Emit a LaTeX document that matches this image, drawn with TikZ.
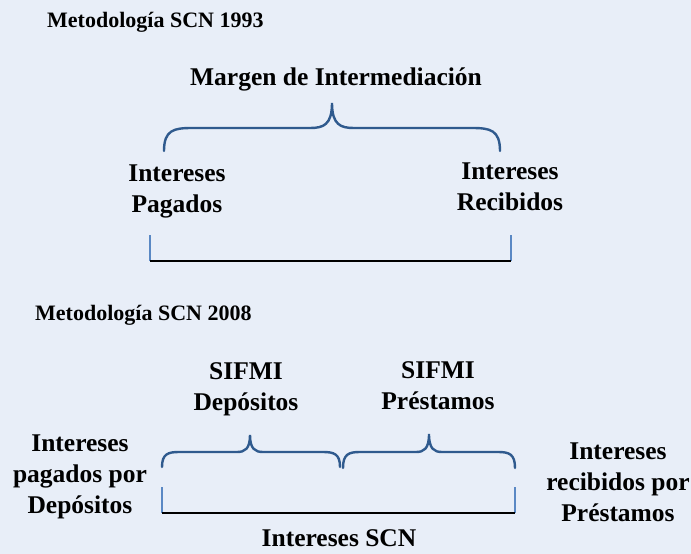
\documentclass[tikz,border=0pt]{standalone}
\usepackage{fontspec}
\setmainfont{Liberation Serif}
\definecolor{bg}{HTML}{E8EEF8}
\definecolor{bracecol}{HTML}{2F5A8E}
\definecolor{tickcol}{HTML}{5A88C4}
\newcommand\mybrace[8]{%
  \draw[bracestyle] (#1,#4) .. controls (#1,#5+2) and (#1+#7*0.35,#5) .. (#1+#7,#5)
    -- (#3-#8,#5) .. controls (#3-#8*0.4,#5) and (#3,#5-3) .. (#3,#6)
    .. controls (#3,#5-3) and (#3+#8*0.4,#5) .. (#3+#8,#5)
    -- (#2-#7,#5) .. controls (#2-#7*0.35,#5) and (#2,#5+2) .. (#2,#4);}
\begin{document}
\begin{tikzpicture}[x=1pt,y=-1pt,
  lbl/.style={inner sep=0pt,align=center,font=\bfseries\fontsize{25.5}{31}\selectfont},
  ttl/.style={inner sep=0pt,anchor=west,font=\bfseries\fontsize{22}{26}\selectfont},
  bracestyle/.style={draw=bracecol,line width=2.4pt,line cap=round},
  tickstyle/.style={draw=tickcol,line width=1.1pt},
  basestyle/.style={draw=black,line width=2.2pt}]
\fill[bg] (0,0) rectangle (691,554);
\useasboundingbox (0,0) rectangle (691,554);

% Top section
\node[ttl] (t1) at (47,22) {Metodología SCN 1993};
\node[lbl] (m) at (336,79) {Margen de Intermediación};
\node[lbl] (ip) at (177,191) {Intereses\\Pagados};
\node[lbl] (ir) at (510,187) {Intereses\\Recibidos};
\mybrace{164}{500}{332}{151}{128}{103}{28}{22}
\coordinate (a1) at (150,235);
\coordinate (a2) at (150,261);
\coordinate (b1) at (511,235);
\coordinate (b2) at (511,261);
\draw[tickstyle] (a1) -- (a2);
\draw[tickstyle] (b1) -- (b2);
\draw[basestyle] (a2) -- (b2);

% Bottom section
\node[ttl] (t2) at (35,315) {Metodología SCN 2008};
\node[lbl] (sd) at (246,389) {SIFMI\\Depósitos};
\node[lbl] (sp) at (438,386) {SIFMI\\Préstamos};
\node[lbl] (ipd) at (80,477) {Intereses\\pagados por\\Depósitos};
\node[lbl] (irp) at (618,482) {Intereses\\recibidos por\\Préstamos};
\node[lbl] (is) at (339,538) {Intereses SCN};
\mybrace{162}{340}{250}{467}{452}{435}{17}{13}
\mybrace{343}{515}{429}{468}{452}{434}{17}{13}
\coordinate (c1) at (162,487);
\coordinate (c2) at (162,513);
\coordinate (d1) at (515,487);
\coordinate (d2) at (515,513);
\draw[tickstyle] (c1) -- (c2);
\draw[tickstyle] (d1) -- (d2);
\draw[basestyle] (c2) -- (d2);
\end{tikzpicture}
\end{document}
